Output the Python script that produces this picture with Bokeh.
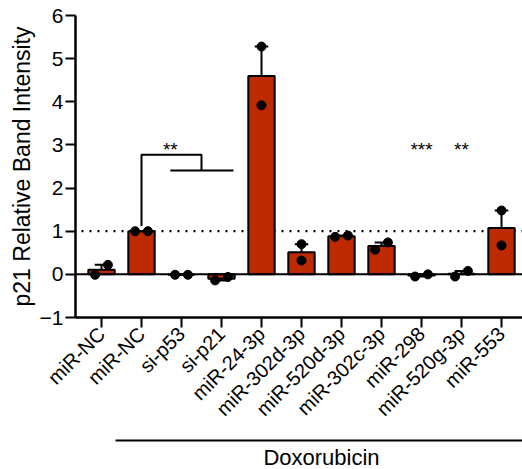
import numpy as np
from bokeh.plotting import figure
from bokeh.models import Range1d, FixedTicker, Span
from bokeh.layouts import column
from bokeh.core.properties import value
from bokeh.embed import file_html
from bokeh.resources import INLINE

# ---- data ----
labels = ["miR-NC", "miR-NC", "si-p53", "si-p21", "miR-24-3p", "miR-302d-3p",
          "miR-520d-3p", "miR-302c-3p", "miR-298", "miR-520g-3p", "miR-553"]
rep1 = [-0.01, 1.00, -0.01, -0.14, 5.28, 0.70, 0.87, 0.57, -0.05, -0.05, 1.48]
rep2 = [0.22, 1.00, -0.01, -0.06, 3.92, 0.32, 0.90, 0.74, 0.00, 0.08, 0.67]
y_ticks = [-1, 0, 1, 2, 3, 4, 5, 6]
reference_level = 1.0
sig_bracket = {"from": 1, "to_a": 2, "to_b": 3, "top": 2.77, "sub": 2.41, "base": 1.12}
sig_labels = [(1.72, "**"), (8, "***"), (9, "**")]
sig_text_y = 2.90
dox_group = (1, 10)
dox_label = "Doxorubicin"

FONT = "Liberation Sans"
RED = "#BD2A00"

idx = np.arange(len(labels))
r1 = np.array(rep1)
r2 = np.array(rep2)
means = (r1 + r2) / 2
sem = np.abs(r1 - r2) / 2
sign = np.where(means >= 0, 1, -1)
err_end = means + sign * sem

# horizontal scatter of replicate points (GraphPad-like): spread when close
close = np.abs(r1 - r2) < 0.3
lo = np.minimum(r1, r2)
hi = np.maximum(r1, r2)
off = np.where(close, 0.16, 0.0)
px = np.concatenate([idx - off, idx + off])
py = np.concatenate([lo, hi])

x_range = Range1d(-0.65, 10.525)

p = figure(width=522, height=436, x_range=x_range, y_range=Range1d(-1, 6),
           output_backend="svg", toolbar_location=None,
           min_border_left=75, min_border_right=0, min_border_top=15,
           min_border_bottom=119)
p.outline_line_color = None
p.xgrid.visible = False
p.ygrid.visible = False
p.background_fill_color = "white"

# reference lines
p.add_layout(Span(location=0, dimension="width", line_color="black", line_width=2))
p.segment(x0=-0.5, x1=10.6, y0=reference_level, y1=reference_level,
          line_color="black", line_width=2.2, line_dash="2 6")

# bars
p.vbar(x=idx, top=means, bottom=0, width=0.66, fill_color=RED,
       line_color="black", line_width=2)

# error bars (SEM, one-sided)
p.segment(x0=idx, x1=idx, y0=means, y1=err_end, line_color="black", line_width=2)
p.segment(x0=idx - 0.17, x1=idx + 0.17, y0=err_end, y1=err_end,
          line_color="black", line_width=2)

# points
p.scatter(x=px, y=py, size=9, marker="circle", fill_color="black", line_color="black")

# significance bracket
b = sig_bracket
mid = (b["to_a"] + b["to_b"]) / 2
p.multi_line(xs=[[b["from"], b["from"], mid, mid],
                 [b["to_a"] - 0.28, b["to_b"] + 0.3]],
             ys=[[b["base"], b["top"], b["top"], b["sub"]],
                 [b["sub"], b["sub"]]],
             line_color="black", line_width=2)
p.text(x=[s[0] for s in sig_labels], y=[sig_text_y] * len(sig_labels),
       text=[s[1] for s in sig_labels], text_align="center",
       text_baseline="alphabetic", text_font=value(FONT),
       text_font_size="19px", text_color="black")

# axes
for ax in (p.xaxis, p.yaxis):
    ax.axis_line_width = 2.5
    ax.axis_line_color = "black"
    ax.major_tick_line_width = 2
    ax.major_tick_line_color = "black"
    ax.major_tick_out = 10
    ax.major_tick_in = 0
    ax.minor_tick_line_color = None
    ax.major_label_text_font = FONT
    ax.major_label_text_color = "black"

p.yaxis.ticker = FixedTicker(ticks=y_ticks)
p.yaxis.major_label_text_font_size = "21px"
p.yaxis.major_label_standoff = 2
p.yaxis.axis_label = "p21 Relative Band Intensity"
p.yaxis.axis_label_text_font = FONT
p.yaxis.axis_label_text_font_size = "23px"
p.yaxis.axis_label_text_font_style = "normal"
p.yaxis.axis_label_text_color = "black"
p.yaxis.axis_label_standoff = 2

p.xaxis.ticker = FixedTicker(ticks=list(idx))
p.xaxis.major_label_overrides = {int(i): lab for i, lab in zip(idx, labels)}
p.xaxis.major_label_orientation = np.pi / 4
p.xaxis.major_label_text_font_size = "20px"
p.xaxis.major_label_standoff = 3

# group annotation below
p2 = figure(width=522, height=33, x_range=x_range, y_range=Range1d(-33, 0),
            output_backend="svg", toolbar_location=None,
            x_axis_location=None, y_axis_location=None,
            min_border_left=75, min_border_right=0, min_border_top=0,
            min_border_bottom=0)
p2.outline_line_color = None
p2.xgrid.visible = False
p2.ygrid.visible = False
g0, g1 = dox_group
p2.segment(x0=g0 - 0.65, x1=g1 + 0.6, y0=-4, y1=-4, line_color="black", line_width=2)
p2.text(x=[(g0 + g1) / 2], y=[-8], text=[dox_label], text_align="center",
        text_baseline="top", text_font=value(FONT), text_font_size="22px",
        text_color="black")

layout = column(p, p2, spacing=0)
open("out.html", "w").write(file_html(layout, INLINE))
